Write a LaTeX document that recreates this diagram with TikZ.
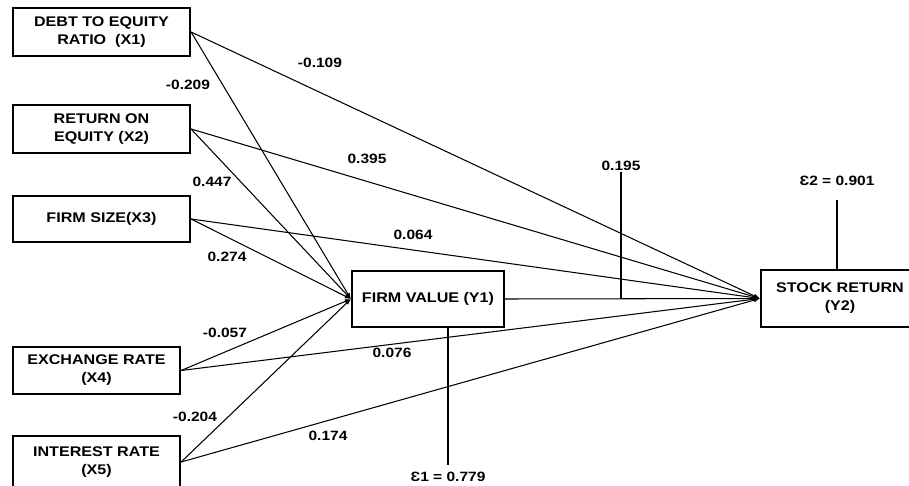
\documentclass[tikz,border=0pt]{standalone}
\usepackage{fontspec}
\setmainfont{Liberation Sans}[FakeStretch=1.15]
\usetikzlibrary{calc, arrows.meta}

\tikzset{
    varbox/.style={draw, line width=2.2pt, fill=white, align=center, inner sep=0pt,
        font=\fontsize{14}{18}\selectfont\bfseries},
    coef/.style={font=\fontsize{13.5}{15}\selectfont\bfseries, inner sep=1pt},
    path/.style={line width=1.05pt, -{Latex[length=6pt, width=4.5pt]}}
}

\begin{document}
\begin{tikzpicture}[x=1pt, y=-1pt]
                    \useasboundingbox (0,0) rectangle (909,486);
                    % exogenous variables
                    \node[varbox, minimum width=177pt, minimum height=48pt] (x1) at (101.5,32) {DEBT TO EQUITY\\RATIO~~(X1)};
                    \node[varbox, minimum width=177pt, minimum height=48pt] (x2) at (101.5,129) {RETURN ON\\EQUITY (X2)};
                    \node[varbox, minimum width=177pt, minimum height=46pt] (x3) at (101.5,219) {FIRM SIZE(X3)};
                    \node[varbox, minimum width=167pt, minimum height=47pt] (x4) at (96.5,370.5) {EXCHANGE RATE\\(X4)};
                    \node[varbox, minimum width=167pt, minimum height=52pt] (x5) at (96.5,462) {INTEREST RATE\\(X5)};
                    % endogenous variables
                    \node[varbox, minimum width=152pt, minimum height=56pt] (y1) at (428,299) {FIRM VALUE (Y1)};
                    \node[varbox, minimum width=158pt, minimum height=57pt] (y2) at (840,298.5) {STOCK RETURN\\(Y2)};

                    \foreach \x in {x1, x2, x3, x4, x5} {
                        \draw[path] (\x.east) -- (y1.west);
                        \draw[path] (\x.east) -- (y2.west);
                    }
                    \draw[path] (y1.east) -- (y2.west);

                    % mediation and error terms
                    \coordinate (c195) at (621,172);
                    \coordinate (e1) at (448,465);
                    \coordinate (e2) at (837,200);
                    \draw[line width=1.05pt] (c195) -- (c195 |- y1.east);
                    \draw[line width=1.05pt] (e1 |- y1.south) -- (e1);
                    \draw[line width=1.05pt] (e2) -- (e2 |- y2.north);

                    \node[coef, above] at (c195) {0.195};
                    \node[coef] at (448,477) {Ɛ1 = 0.779};
                    \node[coef] at (837,181) {Ɛ2 = 0.901};

                    % path coefficients
                    \node[coef] at (320,63) {-0.109};
                    \node[coef] at (188,85) {-0.209};
                    \node[coef] at (367,159) {0.395};
                    \node[coef] at (212,182) {0.447};
                    \node[coef] at (413,235) {0.064};
                    \node[coef] at (227,257) {0.274};
                    \node[coef] at (225,333) {-0.057};
                    \node[coef] at (392,353) {0.076};
                    \node[coef] at (195,417) {-0.204};
                    \node[coef] at (328,436) {0.174};
                \end{tikzpicture}
\end{document}
